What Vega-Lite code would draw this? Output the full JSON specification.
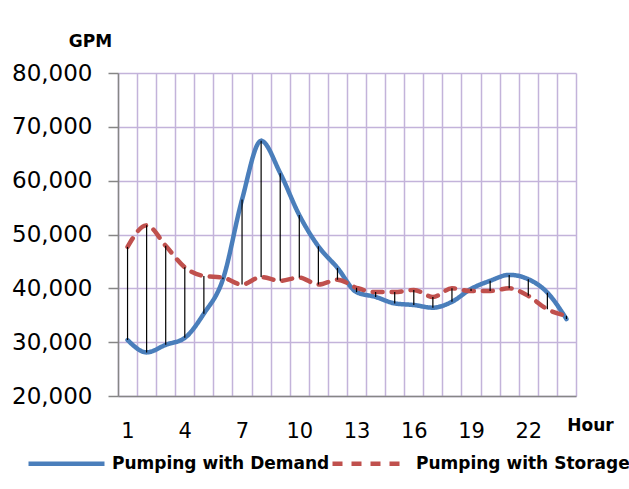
{
  "$schema": "https://vega.github.io/schema/vega-lite/v6.json",
  "width": 458,
  "height": 323,
  "autosize": {"type": "none"},
  "padding": {"left": 118, "top": 73, "right": 53, "bottom": 93},
  "background": "white",
  "config": {"view": {"stroke": null}, "font": "DejaVu Sans"},
  "data": {
    "values": [
      {"hour": 1, "Pumping with Demand": 30400, "Pumping with Storage": 47700},
      {"hour": 2, "Pumping with Demand": 28100, "Pumping with Storage": 51700},
      {"hour": 3, "Pumping with Demand": 29500, "Pumping with Storage": 47900},
      {"hour": 4, "Pumping with Demand": 30800, "Pumping with Storage": 43900},
      {"hour": 5, "Pumping with Demand": 35300, "Pumping with Storage": 42300},
      {"hour": 6, "Pumping with Demand": 41700, "Pumping with Storage": 42000},
      {"hour": 7, "Pumping with Demand": 56500, "Pumping with Storage": 40700},
      {"hour": 8, "Pumping with Demand": 67400, "Pumping with Storage": 42100},
      {"hour": 9, "Pumping with Demand": 61400, "Pumping with Storage": 41400},
      {"hour": 10, "Pumping with Demand": 53600, "Pumping with Storage": 42000},
      {"hour": 11, "Pumping with Demand": 47800, "Pumping with Storage": 40700},
      {"hour": 12, "Pumping with Demand": 43800, "Pumping with Storage": 41600},
      {"hour": 13, "Pumping with Demand": 39300, "Pumping with Storage": 40100},
      {"hour": 14, "Pumping with Demand": 38400, "Pumping with Storage": 39300},
      {"hour": 15, "Pumping with Demand": 37200, "Pumping with Storage": 39300},
      {"hour": 16, "Pumping with Demand": 36900, "Pumping with Storage": 39700},
      {"hour": 17, "Pumping with Demand": 36400, "Pumping with Storage": 38400},
      {"hour": 18, "Pumping with Demand": 37500, "Pumping with Storage": 40000},
      {"hour": 19, "Pumping with Demand": 39900, "Pumping with Storage": 39500},
      {"hour": 20, "Pumping with Demand": 41400, "Pumping with Storage": 39500},
      {"hour": 21, "Pumping with Demand": 42500, "Pumping with Storage": 40000},
      {"hour": 22, "Pumping with Demand": 41700, "Pumping with Storage": 38600},
      {"hour": 23, "Pumping with Demand": 39200, "Pumping with Storage": 36100},
      {"hour": 24, "Pumping with Demand": 34300, "Pumping with Storage": 34900}
    ]
  },
  "layer": [
    {
      "transform": [{"fold": ["Pumping with Demand", "Pumping with Storage"], "as": ["series", "gpm"]}],
      "mark": {"type": "line", "interpolate": "monotone", "strokeWidth": 4.5, "strokeCap": "round"},
      "encoding": {
        "x": {
          "field": "hour", "type": "ordinal", "bandPosition": 0.5,
          "scale": {"type": "band", "paddingInner": 0, "paddingOuter": 0},
          "axis": {
            "title": "Hour", "titleX": 472, "titleY": 29, "titleAlign": "center", "titleBaseline": "middle",
            "titleFont": "DejaVu Sans", "titleFontWeight": "bold", "titleFontSize": 17, "titleColor": "black",
            "labelAngle": 0, "labelFontSize": 21, "labelColor": "black", "labelFont": "DejaVu Sans",
            "labelExpr": "(datum.value - 1) % 3 == 0 ? datum.label : ''",
            "labelOverlap": false, "labelPadding": 35, "labelBaseline": "middle",
            "ticks": false, "tickSize": 0, "tickBand": "extent",
            "grid": true, "gridColor": "#c3b3da", "gridWidth": 1.5, "gridOpacity": 1,
            "domainColor": "#868686", "domainWidth": 1.5
          }
        },
        "y": {
          "field": "gpm", "type": "quantitative",
          "scale": {"domain": [20000, 80000], "nice": false, "zero": false},
          "axis": {
            "title": "GPM", "titleAngle": 0, "titleX": -28, "titleY": -32, "titleAlign": "center", "titleBaseline": "middle",
            "titleFont": "DejaVu Sans", "titleFontSize": 17, "titleFontWeight": "bold", "titleColor": "black",
            "values": [20000, 30000, 40000, 50000, 60000, 70000, 80000], "format": ",.0f",
            "labelFontSize": 23, "labelColor": "black", "labelFont": "DejaVu Sans", "labelPadding": 16,
            "tickSize": 10, "tickColor": "#868686", "tickWidth": 1.5,
            "domainColor": "#868686", "domainWidth": 1.5,
            "grid": true, "gridColor": "#c3b3da", "gridWidth": 1.5, "gridOpacity": 1
          }
        },
        "color": {
          "field": "series", "type": "nominal",
          "scale": {"domain": ["Pumping with Demand", "Pumping with Storage"], "range": ["#4a7ebb", "#c0504d"]},
          "legend": {
            "orient": "none", "legendX": -92, "legendY": 350, "direction": "horizontal", "title": null,
            "symbolType": "stroke", "symbolSize": 5776, "symbolStrokeWidth": 4.5,
            "labelFont": "DejaVu Sans", "labelFontWeight": "bold", "labelFontSize": 17, "labelColor": "black",
            "labelOffset": 5, "labelLimit": 400, "columnPadding": -10, "padding": 0
          }
        },
        "strokeDash": {
          "field": "series", "type": "nominal",
          "scale": {"domain": ["Pumping with Demand", "Pumping with Storage"], "range": [[1, 0], [10, 9]]},
          "legend": {
            "orient": "none", "legendX": -92, "legendY": 350, "direction": "horizontal", "title": null,
            "symbolType": "stroke", "symbolSize": 5776, "symbolStrokeWidth": 4.5,
            "labelFont": "DejaVu Sans", "labelFontWeight": "bold", "labelFontSize": 17, "labelColor": "black",
            "labelOffset": 5, "labelLimit": 400, "columnPadding": -10, "padding": 0
          }
        }
      }
    },
    {
      "mark": {"type": "rule", "color": "black", "strokeWidth": 1.2},
      "encoding": {
        "x": {"field": "hour", "type": "ordinal", "bandPosition": 0.5},
        "y": {"field": "Pumping with Demand", "type": "quantitative"},
        "y2": {"field": "Pumping with Storage"}
      }
    }
  ]
}
